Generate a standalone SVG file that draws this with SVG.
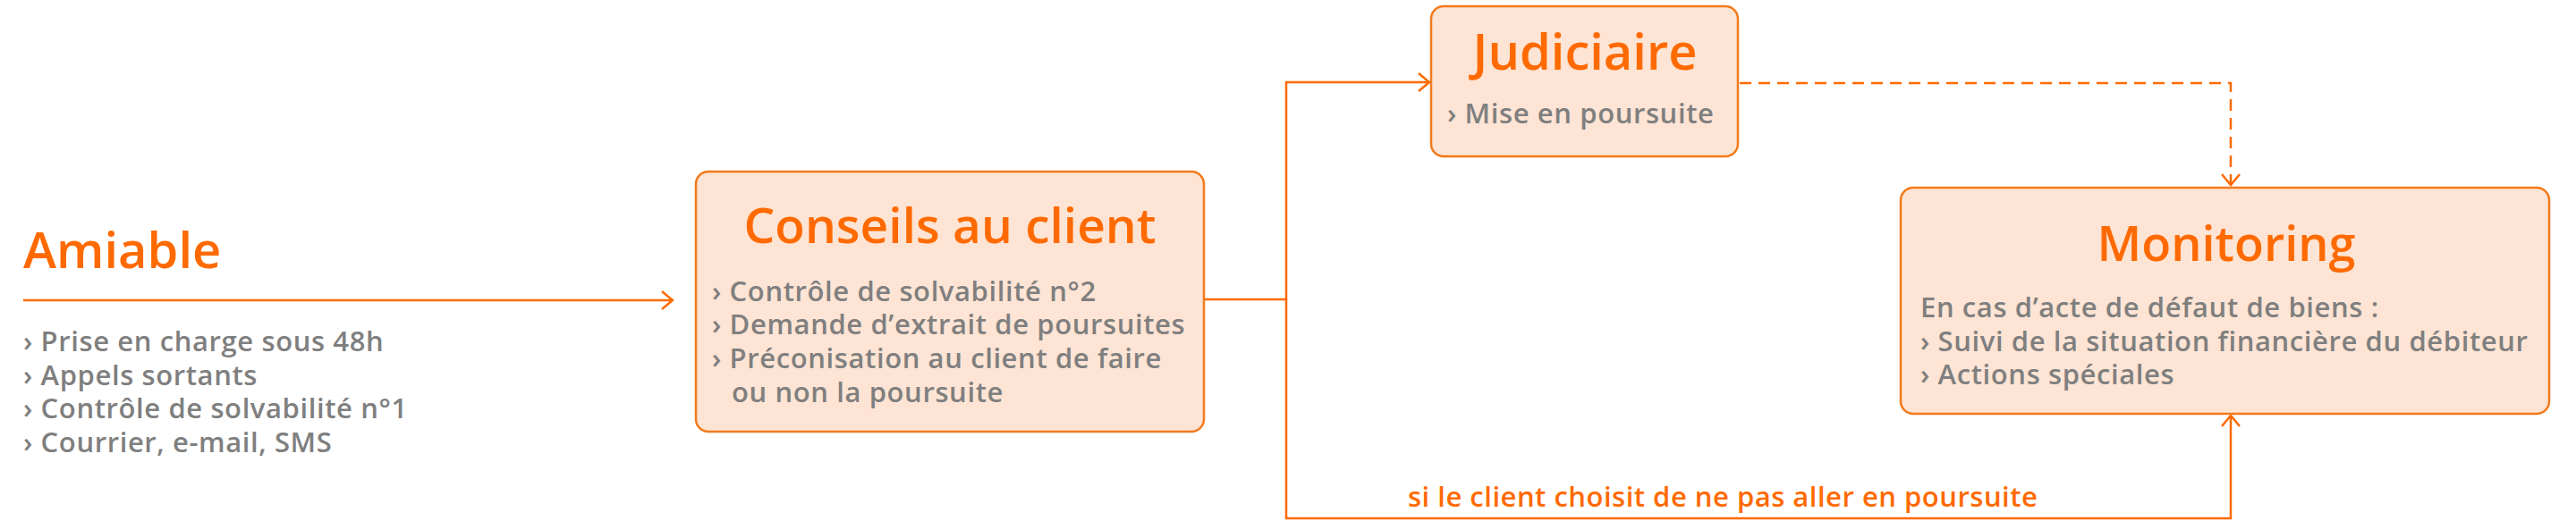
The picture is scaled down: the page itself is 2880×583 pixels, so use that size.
<svg xmlns="http://www.w3.org/2000/svg" width="2880" height="583" viewBox="0 0 2880 583">
<style>
.box{fill:#fee4d4;stroke:#f27a1c;stroke-width:2.5}
.title{font-family:"Open Sans","Liberation Sans",sans-serif;font-weight:600;fill:#ff6a00}
.body{font-family:"Open Sans","Liberation Sans",sans-serif;font-weight:600;fill:#7f7f7f;font-size:31px;letter-spacing:0.6px}
.lbl{font-family:"Open Sans","Liberation Sans",sans-serif;font-weight:600;fill:#ff6a00;font-size:31px;letter-spacing:0.5px}
.conn{fill:none;stroke:#ff6a00;stroke-width:2.5}
.dash{stroke-dasharray:13 8}
</style>
<defs>
<marker id="arr" markerUnits="userSpaceOnUse" markerWidth="30" markerHeight="30" viewBox="-15 -15 30 30" refX="0" refY="0" orient="auto">
<path d="M-12,-10 L0,0 L-12,10" fill="none" stroke="#ff6a00" stroke-width="2.5"/>
</marker>
</defs>
<rect width="2880" height="583" fill="#ffffff"/>
<g id="connectors">
<path class="conn" d="M26 336 H752" marker-end="url(#arr)"/>
<path class="conn" d="M1346 335 H1438 V92 H1598" marker-end="url(#arr)"/>
<path class="conn" d="M1438 335 V580 H2494 V465" marker-end="url(#arr)"/>
<path class="conn dash" d="M1945 93 H2494 V207" marker-end="url(#arr)"/>
<text class="lbl" x="1574" y="567">si le client choisit de ne pas aller en poursuite</text>
</g>
<g id="amiable">
<text class="title" x="26" y="300" font-size="56">Amiable</text>
<text class="body" x="26" y="393">› Prise en charge sous 48h</text>
<text class="body" x="26" y="431">› Appels sortants</text>
<text class="body" x="26" y="468">› Contrôle de solvabilité n°1</text>
<text class="body" x="26" y="506">› Courrier, e-mail, SMS</text>
</g>
<g id="conseils">
<rect class="box" x="778" y="192" width="568" height="291" rx="14"/>
<text class="title" x="1062" y="272" font-size="55" text-anchor="middle">Conseils au client</text>
<text class="body" x="796" y="337">› Contrôle de solvabilité n°2</text>
<text class="body" x="796" y="374">› Demande d’extrait de poursuites</text>
<text class="body" x="796" y="412">› Préconisation au client de faire</text>
<text class="body" x="818" y="450">ou non la poursuite</text>
</g>
<g id="judiciaire">
<rect class="box" x="1600" y="7" width="343" height="168" rx="14"/>
<text class="title" x="1772" y="78" font-size="56" text-anchor="middle">Judiciaire</text>
<text class="body" x="1618" y="138">› Mise en poursuite</text>
</g>
<g id="monitoring">
<rect class="box" x="2125" y="210" width="725" height="253" rx="14"/>
<text class="title" x="2489" y="292" font-size="54" text-anchor="middle">Monitoring</text>
<text class="body" x="2147" y="355">En cas d’acte de défaut de biens :</text>
<text class="body" x="2147" y="393">› Suivi de la situation financière du débiteur</text>
<text class="body" x="2147" y="430">› Actions spéciales</text>
</g>
</svg>
